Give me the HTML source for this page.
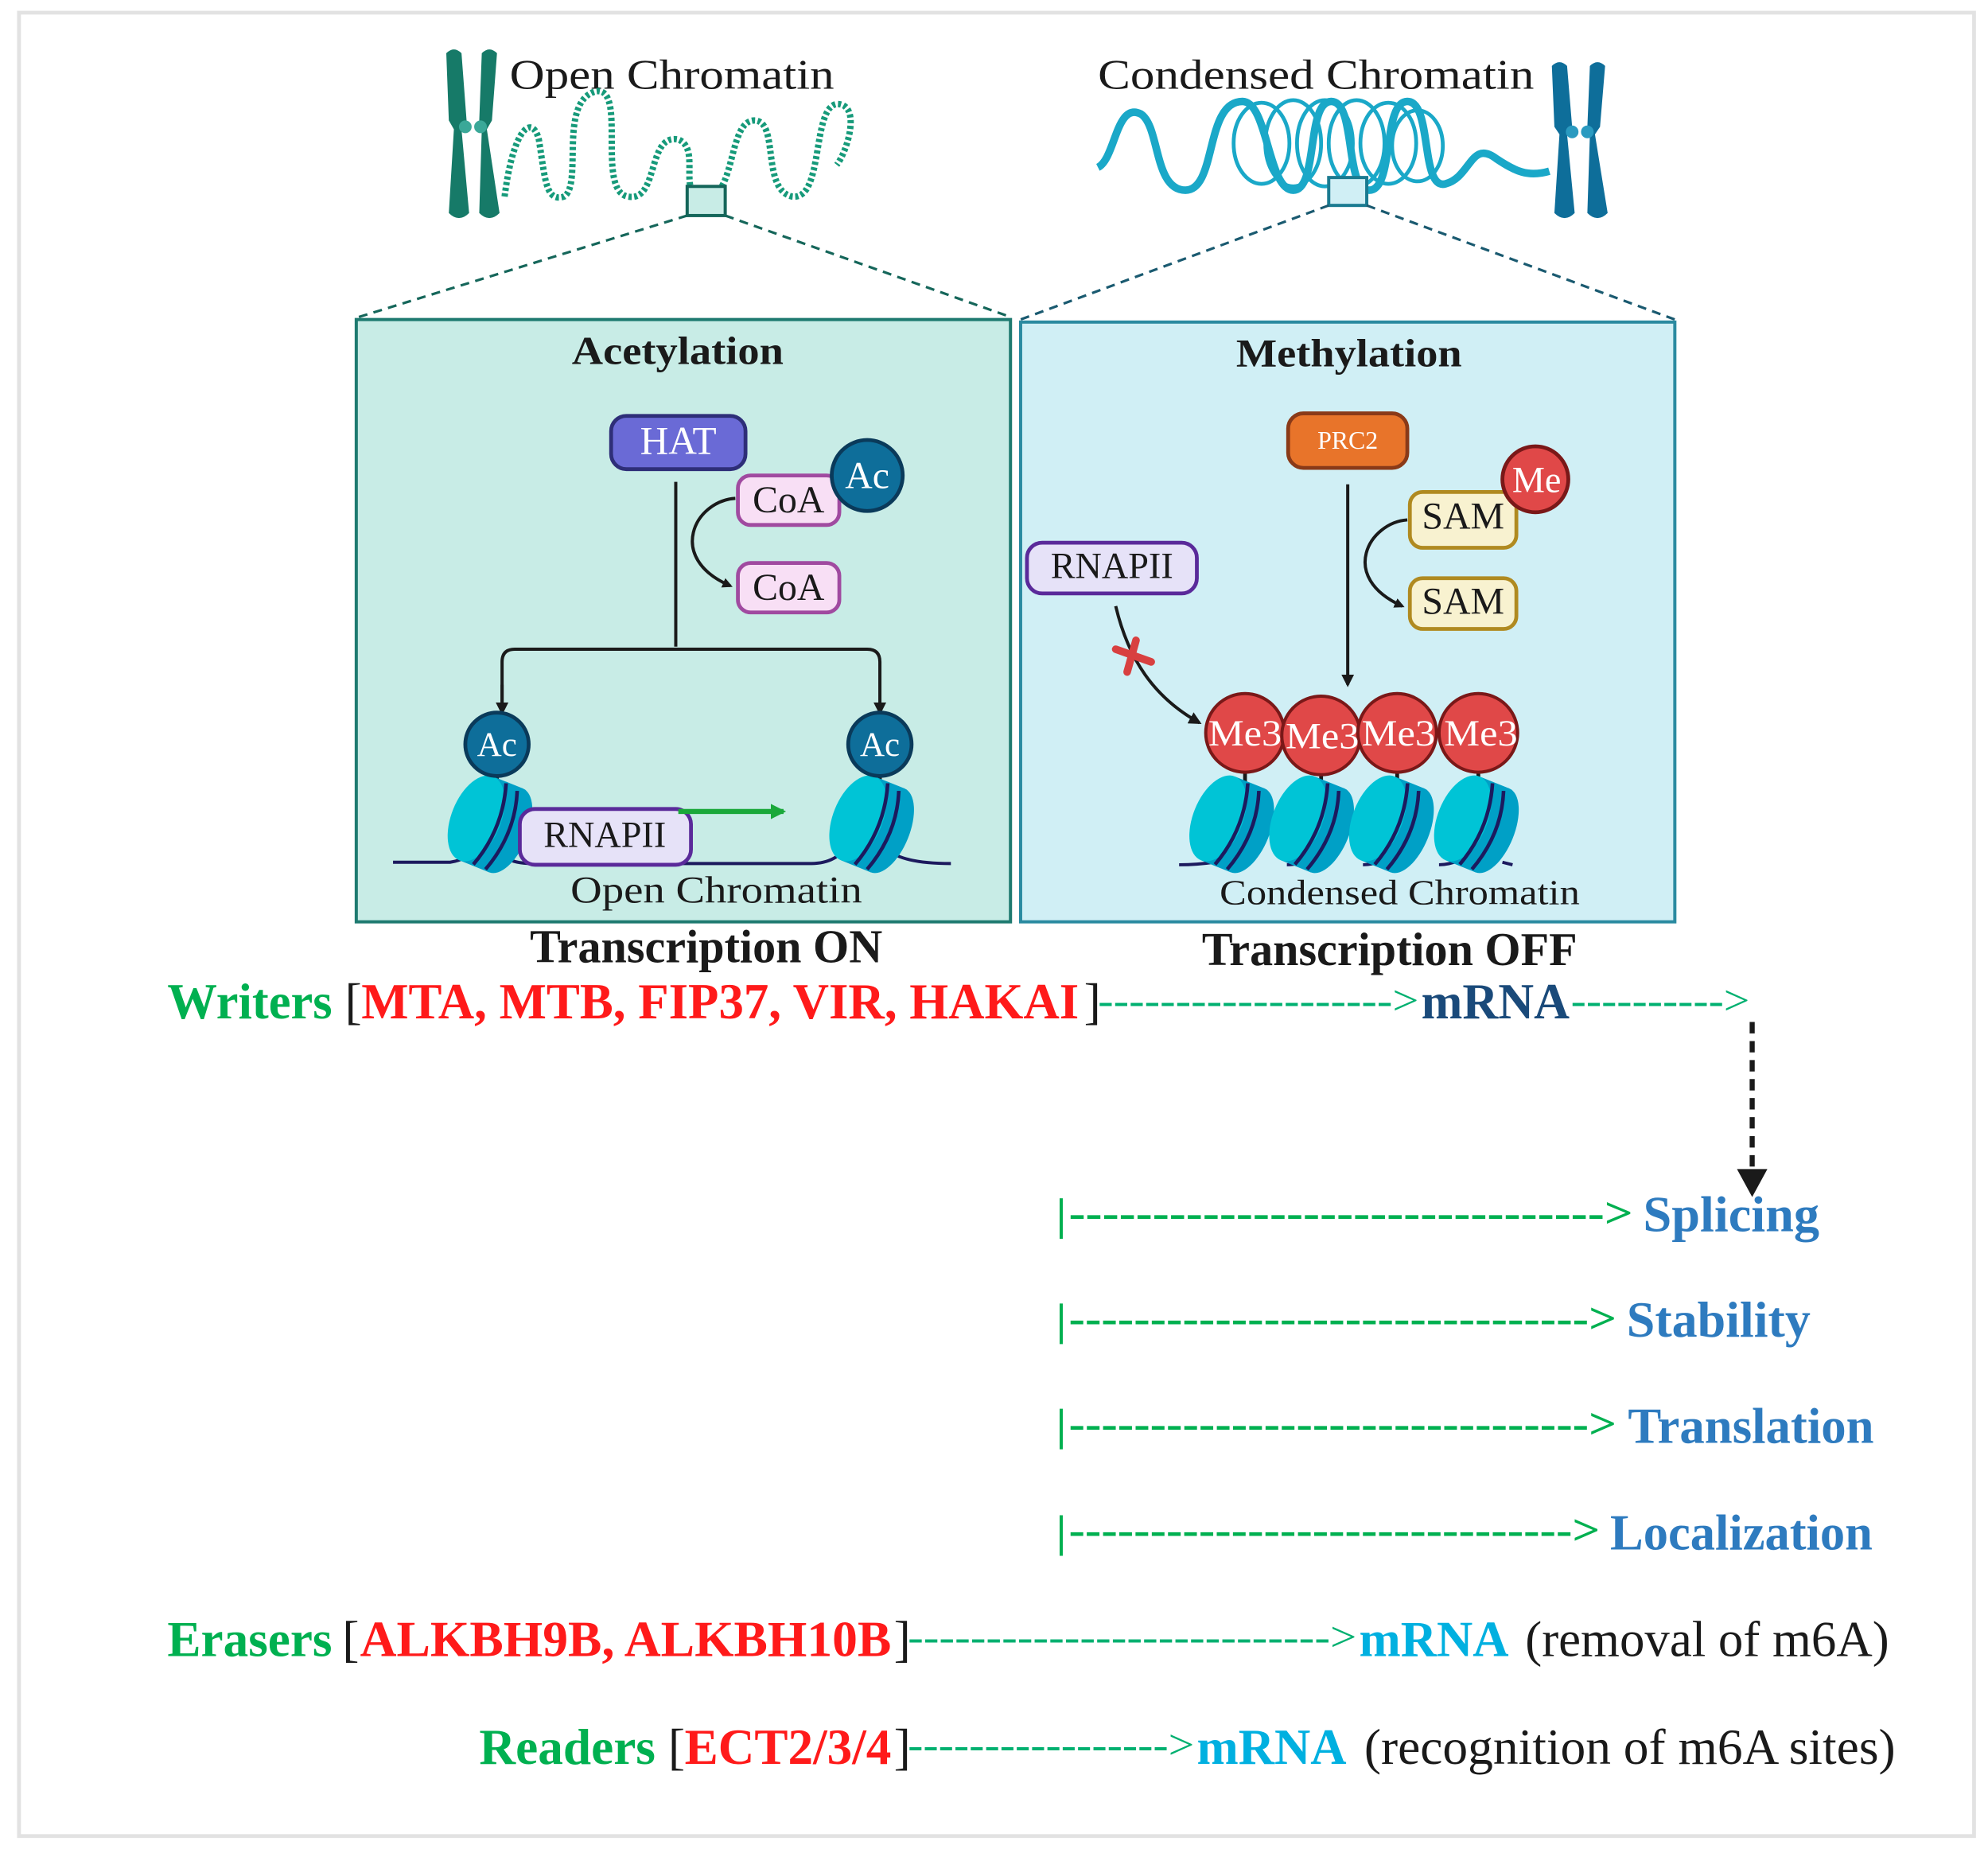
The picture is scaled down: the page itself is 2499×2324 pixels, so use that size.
<!DOCTYPE html>
<html><head><meta charset="utf-8"><style>
html,body{margin:0;padding:0;background:#fff;}
svg{display:block;}
text{font-family:"Liberation Serif",serif;}
</style></head><body>
<svg width="2499" height="2324" viewBox="0 0 1568 1458.2" preserveAspectRatio="none" xmlns="http://www.w3.org/2000/svg">
<defs>
<marker id="ah" markerWidth="8" markerHeight="8" refX="6" refY="4" orient="auto" markerUnits="userSpaceOnUse"><path d="M0,0 L8,4 L0,8 Z" fill="#1a1a1a"/></marker>
<marker id="ahs" markerWidth="10" markerHeight="10" refX="8" refY="5" orient="auto" markerUnits="userSpaceOnUse"><path d="M0,0 L10,5 L0,10 Z" fill="#1a1a1a"/></marker>
<marker id="ahg" markerWidth="12" markerHeight="12" refX="10" refY="6" orient="auto" markerUnits="userSpaceOnUse"><path d="M0,0 L12,6 L0,12 Z" fill="#1aa83a"/></marker>
<g id="nuc">
  <g transform="rotate(22) scale(1.15)">
    <rect x="-6" y="-31" width="22" height="62" fill="#00a0c6"/>
    <ellipse cx="16" cy="0" rx="15" ry="31" fill="#00a0c6"/>
    <ellipse cx="-6" cy="0" rx="17" ry="31" fill="#00c4d6"/>
    <path d="M4,-30 Q14,0 4,30" stroke="#1c1a5e" stroke-width="2.5" fill="none"/>
    <path d="M13,-28 Q23,0 13,30" stroke="#1c1a5e" stroke-width="2.5" fill="none"/>
  </g>
</g>
</defs>
<rect x="15" y="10" width="1542" height="1438" fill="#fff" stroke="#e2e2e2" stroke-width="3"/>

<g fill="#167a68">
  <path d="M352,42 Q358,36 364,42 L368,95 L364,102 L370,168 Q362,176 354,168 L358,102 L354,95 Z"/>
  <path d="M380,42 Q386,36 392,42 L388,95 L384,102 L394,168 Q386,176 378,168 L380,102 L378,95 Z"/>
  <circle cx="367" cy="100" r="5" fill="#3aa898"/><circle cx="379" cy="100" r="5" fill="#3aa898"/>
</g>
<g fill="#0e6e9a">
  <path d="M1224,52 Q1230,46 1236,52 L1240,100 L1236,106 L1242,168 Q1234,176 1226,168 L1230,106 L1226,100 Z"/>
  <path d="M1254,52 Q1260,46 1266,52 L1262,100 L1258,106 L1268,168 Q1260,176 1252,168 L1254,106 L1252,100 Z"/>
  <circle cx="1240" cy="104" r="5" fill="#2a9ac0"/><circle cx="1252" cy="104" r="5" fill="#2a9ac0"/>
</g>
<text x="402" y="70" font-size="33" fill="#1a1a1a" textLength="256" lengthAdjust="spacingAndGlyphs">Open Chromatin</text>
<text x="866" y="70" font-size="33" fill="#1a1a1a" textLength="344" lengthAdjust="spacingAndGlyphs">Condensed Chromatin</text>
<path d="M398,155 C405,100 420,90 425,110 C430,140 430,160 445,155 C460,145 440,80 470,72 C495,68 470,150 495,155 C520,160 510,105 535,110 C555,118 530,160 560,155 C580,150 575,95 595,95 C615,95 600,150 625,155 C650,158 640,85 660,82 C680,82 668,120 660,130" fill="none" stroke="#169a7a" stroke-width="5" stroke-dasharray="2.5 2"/>
<path d="M866,132 C880,125 880,80 900,90 C915,100 910,150 935,150 C960,150 950,80 980,80 C1000,80 1000,150 1020,150 C1040,150 1030,80 1050,80 C1070,80 1060,150 1080,150 C1100,150 1090,80 1110,80 C1130,80 1120,150 1140,145 C1160,140 1160,110 1180,125 C1195,135 1205,140 1222,135" fill="none" stroke="#1aa8c8" stroke-width="6"/>
<g fill="none" stroke="#1aa8c8" stroke-width="3">
  <ellipse cx="995" cy="113" rx="22" ry="32"/><ellipse cx="1020" cy="113" rx="22" ry="34"/><ellipse cx="1045" cy="113" rx="22" ry="34"/><ellipse cx="1070" cy="113" rx="22" ry="34"/><ellipse cx="1095" cy="113" rx="22" ry="32"/><ellipse cx="1118" cy="115" rx="20" ry="28"/>
</g>
<rect x="542" y="147" width="30" height="23" fill="#c8ece6" stroke="#15665a" stroke-width="2.5"/>
<rect x="1048" y="140" width="30" height="22" fill="#d0eff5" stroke="#1a7a90" stroke-width="2.5"/>
<g stroke="#15665a" stroke-width="2" stroke-dasharray="7 5" fill="none">
  <line x1="542" y1="170" x2="283" y2="250"/><line x1="572" y1="170" x2="797" y2="250"/>
</g>
<g stroke="#1a5a70" stroke-width="2" stroke-dasharray="7 5" fill="none">
  <line x1="1048" y1="162" x2="805" y2="252"/><line x1="1078" y1="162" x2="1321" y2="252"/>
</g>

<rect x="281" y="252" width="516" height="475" fill="#c8ece6" stroke="#1e7a70" stroke-width="2.5"/>
<text x="451" y="287" font-size="31" font-weight="bold" fill="#1a1a1a" textLength="167" lengthAdjust="spacingAndGlyphs">Acetylation</text>
<rect x="482" y="328" width="106" height="42" rx="12" fill="#6a6ad6" stroke="#2e2e78" stroke-width="3"/>
<text x="535" y="358" font-size="31" fill="#fff" text-anchor="middle">HAT</text>
<rect x="582" y="375" width="80" height="39" rx="10" fill="#f8dff5" stroke="#a04aa0" stroke-width="3"/>
<text x="622" y="404" font-size="30" text-anchor="middle" fill="#1a1a1a">CoA</text>
<circle cx="684" cy="375" r="28" fill="#0e6e9a" stroke="#0a3a5a" stroke-width="3"/>
<text x="684" y="385" font-size="30" fill="#fff" text-anchor="middle">Ac</text>
<rect x="582" y="444" width="80" height="39" rx="10" fill="#f8dff5" stroke="#a04aa0" stroke-width="3"/>
<text x="622" y="473" font-size="30" text-anchor="middle" fill="#1a1a1a">CoA</text>
<line x1="533" y1="380" x2="533" y2="510" stroke="#1a1a1a" stroke-width="2.5"/>
<path d="M580,393 C548,395 525,440 576,462" fill="none" stroke="#1a1a1a" stroke-width="2.5" marker-end="url(#ah)"/>
<path d="M396,562 L396,522 Q396,512 406,512 L684,512 Q694,512 694,522 L694,562" fill="none" stroke="#1a1a1a" stroke-width="2.5" marker-end="url(#ahs)"/>
<path d="M396,540 L396,562" stroke="#1a1a1a" stroke-width="2.5" marker-end="url(#ahs)"/>
<path d="M310,680 L355,680 Q370,678 380,665 M395,672 Q400,681 420,681 L640,681 Q660,681 670,665 M700,670 Q712,681 750,681" fill="none" stroke="#1c1a5e" stroke-width="2.5"/>
<line x1="392" y1="605" x2="392" y2="625" stroke="#1a1a1a" stroke-width="3"/>
<line x1="694" y1="605" x2="694" y2="625" stroke="#1a1a1a" stroke-width="3"/>
<use href="#nuc" x="382" y="648"/>
<use href="#nuc" x="683" y="648"/>
<circle cx="392" cy="587" r="25" fill="#0e6e9a" stroke="#0a3a5a" stroke-width="3"/>
<text x="392" y="596" font-size="27" fill="#fff" text-anchor="middle">Ac</text>
<circle cx="694" cy="587" r="25" fill="#0e6e9a" stroke="#0a3a5a" stroke-width="3"/>
<text x="694" y="596" font-size="27" fill="#fff" text-anchor="middle">Ac</text>
<rect x="410" y="638" width="135" height="44" rx="12" fill="#e6e2f8" stroke="#5a2a9a" stroke-width="3"/>
<text x="477" y="668" font-size="29" text-anchor="middle" fill="#1a1a1a">RNAPII</text>
<line x1="535" y1="640" x2="618" y2="640" stroke="#1aa83a" stroke-width="4" marker-end="url(#ahg)"/>
<text x="450" y="712" font-size="30" fill="#1a1a1a" textLength="230" lengthAdjust="spacingAndGlyphs">Open Chromatin</text>

<rect x="805" y="254" width="516" height="473" fill="#d0eff5" stroke="#2a8aa0" stroke-width="2.5"/>
<text x="975" y="289" font-size="31" font-weight="bold" fill="#1a1a1a" textLength="178" lengthAdjust="spacingAndGlyphs">Methylation</text>
<rect x="1016" y="326" width="94" height="43" rx="12" fill="#e8742a" stroke="#8a3a18" stroke-width="3"/>
<text x="1063" y="354" font-size="20" fill="#fff" text-anchor="middle">PRC2</text>
<rect x="1112" y="388" width="84" height="44" rx="10" fill="#f8f2d0" stroke="#b08a20" stroke-width="3"/>
<text x="1154" y="417" font-size="30" text-anchor="middle" fill="#1a1a1a">SAM</text>
<circle cx="1211" cy="378" r="26" fill="#e04848" stroke="#7a1818" stroke-width="3"/>
<text x="1212" y="388" font-size="29" fill="#fff" text-anchor="middle">Me</text>
<rect x="1112" y="456" width="84" height="40" rx="10" fill="#f8f2d0" stroke="#b08a20" stroke-width="3"/>
<text x="1154" y="484" font-size="30" text-anchor="middle" fill="#1a1a1a">SAM</text>
<line x1="1063" y1="382" x2="1063" y2="540" stroke="#1a1a1a" stroke-width="2.5" marker-end="url(#ahs)"/>
<path d="M1110,410 C1080,412 1055,455 1106,478" fill="none" stroke="#1a1a1a" stroke-width="2.5" marker-end="url(#ah)"/>
<rect x="810" y="428" width="134" height="40" rx="12" fill="#e6e2f8" stroke="#5a2a9a" stroke-width="3"/>
<text x="877" y="456" font-size="29" text-anchor="middle" fill="#1a1a1a">RNAPII</text>
<path d="M880,478 C890,520 910,550 946,570" fill="none" stroke="#1a1a1a" stroke-width="2.5" marker-end="url(#ahs)"/>
<g stroke="#d84040" stroke-width="6" stroke-linecap="round"><line x1="880" y1="512" x2="908" y2="522"/><line x1="896" y1="505" x2="889" y2="530"/></g>
<path d="M930,682 Q970,682 990,668 M1015,682 Q1030,682 1050,668 M1075,682 Q1090,682 1110,668 M1135,682 Q1150,682 1170,668 M1185,680 L1193,682" fill="none" stroke="#1c1a5e" stroke-width="2.5"/>
<g stroke="#1a1a1a" stroke-width="3">
<line x1="982" y1="600" x2="982" y2="618"/><line x1="1042" y1="600" x2="1042" y2="618"/><line x1="1102" y1="600" x2="1102" y2="618"/><line x1="1166" y1="600" x2="1166" y2="618"/>
</g>
<use href="#nuc" x="967" y="648"/>
<use href="#nuc" x="1030" y="648"/>
<use href="#nuc" x="1093" y="648"/>
<use href="#nuc" x="1160" y="648"/>
<g fill="#e04848" stroke="#7a1818" stroke-width="2.5">
<circle cx="982" cy="578" r="31"/><circle cx="1042" cy="580" r="31"/><circle cx="1102" cy="578" r="31"/><circle cx="1166" cy="578" r="31"/>
</g>
<g font-size="29" fill="#fff" text-anchor="middle">
<text x="982" y="588" textLength="58" lengthAdjust="spacingAndGlyphs">Me3</text><text x="1043" y="590" textLength="58" lengthAdjust="spacingAndGlyphs">Me3</text><text x="1103" y="588" textLength="58" lengthAdjust="spacingAndGlyphs">Me3</text><text x="1168" y="588" textLength="58" lengthAdjust="spacingAndGlyphs">Me3</text>
</g>
<text x="962" y="713" font-size="28" fill="#1a1a1a" textLength="284" lengthAdjust="spacingAndGlyphs">Condensed Chromatin</text>

<text x="418" y="759" font-size="37" font-weight="bold" fill="#1a1a1a" textLength="278" lengthAdjust="spacingAndGlyphs">Transcription ON</text>
<text x="948" y="761" font-size="37" font-weight="bold" fill="#1a1a1a" textLength="296" lengthAdjust="spacingAndGlyphs">Transcription OFF</text>

<g font-size="40" font-weight="bold">
<text x="132" y="803" fill="#00b050" textLength="130" lengthAdjust="spacingAndGlyphs">Writers</text>
<text x="272" y="803" fill="#1a1a1a" font-weight="normal">[</text>
<text x="285" y="803" fill="#ff1a1a" textLength="566" lengthAdjust="spacingAndGlyphs">MTA, MTB, FIP37, VIR, HAKAI</text>
<text x="855" y="803" fill="#1a1a1a" font-weight="normal">]</text>
<text x="866" y="800" fill="#00b070" font-weight="normal" font-size="33" textLength="253" lengthAdjust="spacingAndGlyphs">-------------------&gt;</text>
<text x="1121" y="803" fill="#1a4a7a" textLength="117" lengthAdjust="spacingAndGlyphs">mRNA</text>
<text x="1239" y="800" fill="#00b070" font-weight="normal" font-size="33" textLength="141" lengthAdjust="spacingAndGlyphs">----------&gt;</text>
</g>
<line x1="1382" y1="806" x2="1382" y2="930" stroke="#1a1a1a" stroke-width="4" stroke-dasharray="9 6"/>
<path d="M1370,922 L1394,922 L1382,944 Z" fill="#1a1a1a"/>

<g font-size="40" font-weight="bold">
<line x1="837" y1="945" x2="837" y2="977" stroke="#00b050" stroke-width="2.5"/>
<text x="843" y="968" fill="#00b050" font-size="34" textLength="445" lengthAdjust="spacingAndGlyphs">--------------------------------&gt;</text>
<text x="1296" y="971" fill="#2e7bbf" textLength="139" lengthAdjust="spacingAndGlyphs">Splicing</text>
<line x1="837" y1="1028" x2="837" y2="1060" stroke="#00b050" stroke-width="2.5"/>
<text x="843" y="1051" fill="#00b050" font-size="34" textLength="432" lengthAdjust="spacingAndGlyphs">--------------------------------&gt;</text>
<text x="1283" y="1054" fill="#2e7bbf" textLength="145" lengthAdjust="spacingAndGlyphs">Stability</text>
<line x1="837" y1="1111" x2="837" y2="1143" stroke="#00b050" stroke-width="2.5"/>
<text x="843" y="1134" fill="#00b050" font-size="34" textLength="432" lengthAdjust="spacingAndGlyphs">--------------------------------&gt;</text>
<text x="1284" y="1138" fill="#2e7bbf" textLength="194" lengthAdjust="spacingAndGlyphs">Translation</text>
<line x1="837" y1="1195" x2="837" y2="1227" stroke="#00b050" stroke-width="2.5"/>
<text x="843" y="1218" fill="#00b050" font-size="34" textLength="419" lengthAdjust="spacingAndGlyphs">-------------------------------&gt;</text>
<text x="1270" y="1222" fill="#2e7bbf" textLength="207" lengthAdjust="spacingAndGlyphs">Localization</text>
</g>

<g font-size="40" font-weight="bold">
<text x="132" y="1306" fill="#00b050" textLength="130" lengthAdjust="spacingAndGlyphs">Erasers</text>
<text x="270" y="1306" fill="#1a1a1a" font-weight="normal">[</text>
<text x="284" y="1306" fill="#ff1a1a" textLength="419" lengthAdjust="spacingAndGlyphs">ALKBH9B, ALKBH10B</text>
<text x="705" y="1306" fill="#1a1a1a" font-weight="normal">]</text>
<text x="716" y="1302" fill="#00b070" font-weight="normal" font-size="33" textLength="354" lengthAdjust="spacingAndGlyphs">---------------------------&gt;</text>
<text x="1072" y="1306" fill="#00b0e0" textLength="118" lengthAdjust="spacingAndGlyphs">mRNA</text>
<text x="1203" y="1306" fill="#1a1a1a" font-weight="normal" textLength="287" lengthAdjust="spacingAndGlyphs">(removal of m6A)</text>

<text x="378" y="1391" fill="#00b050" textLength="139" lengthAdjust="spacingAndGlyphs">Readers</text>
<text x="527" y="1391" fill="#1a1a1a" font-weight="normal">[</text>
<text x="540" y="1391" fill="#ff1a1a" textLength="163" lengthAdjust="spacingAndGlyphs">ECT2/3/4</text>
<text x="705" y="1391" fill="#1a1a1a" font-weight="normal">]</text>
<text x="716" y="1387" fill="#00b070" font-weight="normal" font-size="33" textLength="226" lengthAdjust="spacingAndGlyphs">-----------------&gt;</text>
<text x="944" y="1391" fill="#00b0e0" textLength="118" lengthAdjust="spacingAndGlyphs">mRNA</text>
<text x="1076" y="1391" fill="#1a1a1a" font-weight="normal" textLength="419" lengthAdjust="spacingAndGlyphs">(recognition of m6A sites)</text>
</g>
</svg>
</body></html>
